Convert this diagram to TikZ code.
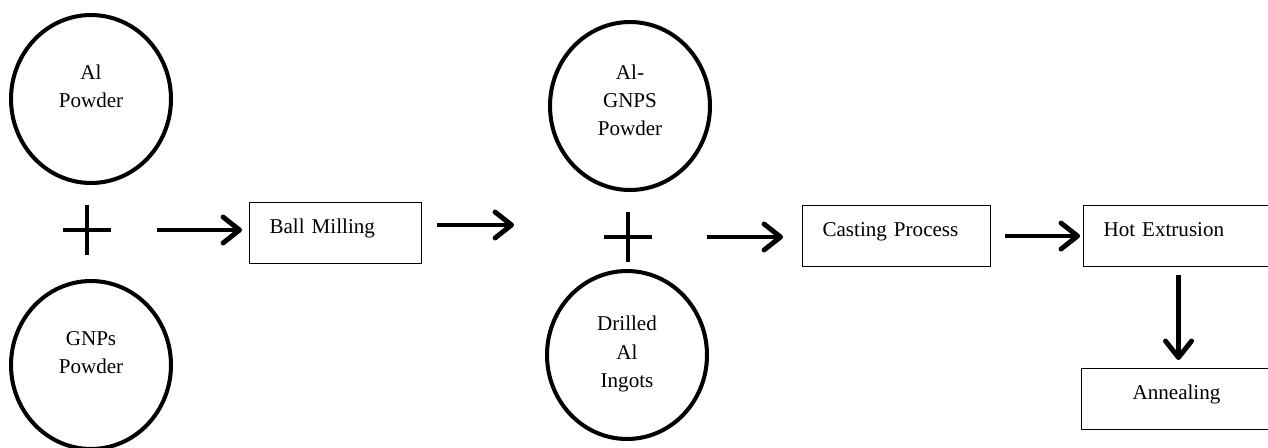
\documentclass[tikz,border=0pt]{standalone}
\usepackage{fontspec}
\setmainfont{Liberation Serif}
\usepackage{tikz}
\usetikzlibrary{arrows.meta,shapes.geometric}
\tikzset{>={Straight Barb[length=3.3mm,width=5.2mm,round]}}
\tikzset{
  blob/.style={ellipse,draw,line width=2.3pt,minimum width=3.2cm,minimum height=3.36cm,inner sep=0pt},
  blobtext/.style={align=center,font=\fontsize{12}{16}\selectfont},
  procbox/.style={draw,line width=0.6pt,anchor=north west,inner xsep=0.4cm,inner ysep=0pt,
    text height=0.62cm,text depth=0.6cm,text width=#1,align=left,font=\fontsize{12}{14}\selectfont},
  flow/.style={->,line width=2.8pt},
  plus/.style={line width=2.8pt}
}

\begin{document}
\begin{tikzpicture}[x=0.02cm,y=-0.02cm]
    \useasboundingbox (0,0) rectangle (1268,447);
    % Starting materials
    \node[blob] (alpow) at (91,99) {};
    \node[blobtext] (alpowtxt) at (91,86) {Al\\Powder};
    \node[blob] (gnppow) at (91,365) {};
    \node[blobtext] (gnppowtxt) at (91,353) {GNPs\\Powder};
    % Milled powder and ingots
    \node[blob] (mixpow) at (630,106) {};
    \node[blobtext] (mixpowtxt) at (630,100) {Al-\\GNPS\\Powder};
    \node[blob] (ingot) at (627,355) {};
    \node[blobtext] (ingottxt) at (627,354) {Drilled\\Al\\Ingots};
    % Plus signs
    \foreach \cx/\cy in {87/230,628/237} {
        \draw[plus] (\cx-24,\cy) -- (\cx+24,\cy) (\cx,\cy-25) -- (\cx,\cy+25);
    }
    % Process boxes
    \node[procbox=2.64cm] (ball) at (249,202) {Ball Milling};
    \node[procbox=2.96cm] (cast) at (802,205) {Casting Process};
    \node[procbox=3.0cm] (hot) at (1083,205) {Hot Extrusion};
    \node[procbox=3.0cm,align=center] (anneal) at (1081,368) {Annealing};
    % Free arrow ends
    \coordinate (a1) at (157,230);
    \coordinate (a2s) at (437,225);
    \coordinate (a2e) at (514,225);
    \coordinate (a3) at (707,237);
    % Arrows
    \draw[flow,shorten >=0.14cm] (a1) -- (a1 -| ball.west);
    \draw[flow] (a2s) -- (a2e);
    \draw[flow,shorten >=0.38cm] (a3) -- (a3 -| cast.west);
    \draw[flow,shorten <=0.28cm,shorten >=0.06cm] (cast.east) -- (hot.west);
    \draw[flow,shorten <=0.16cm,shorten >=0.16cm] (hot.south) -- (hot.south |- anneal.north);
\end{tikzpicture}
\end{document}
